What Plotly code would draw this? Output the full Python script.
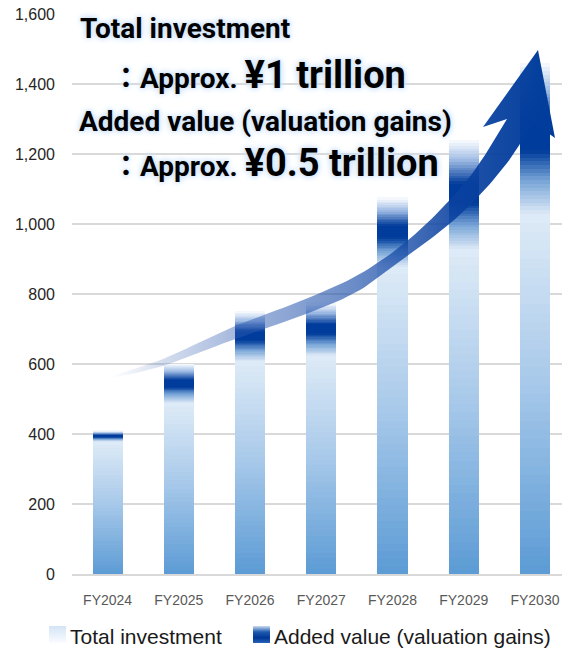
import plotly.graph_objects as go

# ---------------- data ----------------
categories = ["FY2024", "FY2025", "FY2026", "FY2027", "FY2028", "FY2029", "FY2030"]
total_investment = [380, 490, 610, 625, 880, 930, 1030]
added_value = [30, 110, 140, 150, 195, 310, 430]
y_tick_values = [0, 200, 400, 600, 800, 1000, 1200, 1400, 1600]
y_tick_labels = ["0", "200", "400", "600", "800", "1,000", "1,200", "1,400", "1,600"]
series_names = ["Total investment", "Added value (valuation gains)"]

W, H = 562, 648
N = 40  # gradient slices per bar segment

# gradient stops (bottom -> top of each segment)
inv_stops = [(0.0, (91, 155, 213)), (0.55, (170, 202, 234)), (1.0, (222, 235, 247))]
add_stops = [(0.0, (220, 232, 246)), (0.22, (120, 165, 215)), (0.42, (0, 60, 155)),
             (0.6, (0, 60, 155)), (0.82, (160, 188, 228)), (1.0, (250, 252, 255))]


def interp(stops, t):
    for (t0, c0), (t1, c1) in zip(stops[:-1], stops[1:]):
        if t0 <= t <= t1:
            f = (t - t0) / (t1 - t0) if t1 > t0 else 0
            c = [round(a + (b - a) * f) for a, b in zip(c0, c1)]
            return "rgb(%d,%d,%d)" % tuple(c)
    return "rgb(%d,%d,%d)" % stops[-1][1]


fig = go.Figure()

for values, stops in ((total_investment, inv_stops), (added_value, add_stops)):
    for k in range(N):
        col = interp(stops, (k + 0.5) / N)
        fig.add_trace(go.Bar(
            x=categories, y=[v / N for v in values],
            marker=dict(color=col, line=dict(color=col, width=1)),
            hoverinfo="skip", showlegend=False))

# ---------------- decorative arrow (overlay pixel space, y measured from top) ----------------
def catmull(points, steps=12):
    out = []
    pts = [points[0]] + points + [points[-1]]
    for i in range(1, len(pts) - 2):
        p0, p1, p2, p3 = pts[i - 1], pts[i], pts[i + 1], pts[i + 2]
        for s in range(steps):
            t = s / steps
            t2, t3 = t * t, t * t * t
            out.append(tuple(0.5 * ((2 * p1[j]) + (-p0[j] + p2[j]) * t +
                                    (2 * p0[j] - 5 * p1[j] + 4 * p2[j] - p3[j]) * t2 +
                                    (-p0[j] + 3 * p1[j] - 3 * p2[j] + p3[j]) * t3)
                             for j in range(2)))
    out.append(points[-1])
    return out

upper_edge = [(110, 377), (163, 359), (235, 326), (306, 299), (360, 274),
              (407, 241), (447, 203), (477, 167), (507, 119)]
arrow_head = [(483, 127), (538, 50), (555, 138), (534, 123)]
lower_edge = [(534, 123), (507, 163), (477, 198), (447, 226), (407, 256),
              (360, 290), (306, 314), (235, 339), (163, 366), (110, 378)]

outline = catmull(upper_edge) + arrow_head + catmull(lower_edge)[1:]
fig.add_trace(go.Scatter(
    x=[p[0] for p in outline], y=[H - p[1] for p in outline],
    xaxis="x2", yaxis="y2", mode="lines", line=dict(width=0),
    fill="toself",
    fillgradient=dict(type="horizontal", start=110, stop=555,
                      colorscale=[[0, "rgba(70,110,185,0)"], [0.12, "rgba(60,100,180,0.22)"],
                                  [0.3, "rgba(45,90,175,0.45)"], [0.55, "rgba(30,80,170,0.66)"],
                                  [0.78, "rgba(10,65,160,0.9)"], [1, "rgba(0,60,155,1)"]]),
    hoverinfo="skip", showlegend=False))


def px(x):
    return x / W


def py(y):
    return 1 - y / H


# ---------------- custom legend swatches (thin layout rectangles) ----------------
shapes = []
sw_top, sw_bot = 626, 643
legend_swatch_stops = [
    [(0.0, (250, 252, 255)), (1.0, (212, 228, 245))],
    [(0.0, (40, 100, 185)), (0.3, (0, 55, 150)), (0.65, (30, 90, 175)), (1.0, (205, 220, 242))],
]
for (x0, x1), stops in zip(((49, 66), (253, 270)), legend_swatch_stops):
    n = sw_bot - sw_top
    for i in range(n):
        col = interp(stops, (i + 0.5) / n)
        shapes.append(dict(type="rect", xref="paper", yref="paper",
                           x0=px(x0), x1=px(x1), y0=py(sw_bot - i), y1=py(sw_bot - i - 1),
                           line=dict(width=0), fillcolor=col, layer="above"))

base_font = "Liberation Sans, Arial, sans-serif"
title_font = "Roboto, Liberation Sans, Arial, Noto Sans CJK JP, sans-serif"
glow = "0 0 3px rgb(205,225,248), 0 0 6px rgb(205,225,248), 0 0 8px rgb(215,232,250)"

texts = [
    ("Total investment", 78, 29),
    ("：Approx. <span style='font-size:38px'>¥1 trillion</span>", 110, 75),
    ("Added value (valuation gains)", 77, 121),
    ("：Approx. <span style='font-size:38px'>¥0.5 trillion</span>", 110, 163),
]
annotations = []
for t, x, y in texts:
    annotations.append(dict(
        text="<b>" + t + "</b>", x=px(x), y=py(y), xref="paper", yref="paper",
        xanchor="left", yanchor="middle", showarrow=False,
        font=dict(family=title_font, size=28, color="black", shadow=glow)))

for name, x in zip(series_names, (68, 272)):
    annotations.append(dict(
        text=name, x=px(x), y=py(636), xref="paper", yref="paper",
        xanchor="left", yanchor="middle", showarrow=False,
        font=dict(family=base_font, size=21, color="#1a1a1a")))

fig.update_layout(
    template="none",
    width=W, height=H, margin=dict(l=0, r=0, t=0, b=0, pad=0),
    paper_bgcolor="white", plot_bgcolor="rgba(0,0,0,0)",
    barmode="stack", bargap=0.59, showlegend=False,
    xaxis=dict(type="category", categoryorder="array", categoryarray=categories,
               range=[-0.5, 6.38], domain=[72 / W, 1], showgrid=False, zeroline=False,
               showline=True, linecolor="#d9d9d9", linewidth=2, ticks="",
               tickfont=dict(family=base_font, size=14, color="#595959"),
               ticklabelstandoff=12, automargin=False, fixedrange=True),
    yaxis=dict(range=[0, 1600], domain=[(H - 574) / H, (H - 14) / H],
               tickvals=y_tick_values, ticktext=y_tick_labels,
               showgrid=True, gridcolor="#d9d9d9", gridwidth=1.5, zeroline=False,
               showline=False, ticks="", tickfont=dict(family=base_font, size=16, color="#262626"),
               ticklabelstandoff=16, automargin=False, fixedrange=True),
    xaxis2=dict(domain=[0, 1], range=[0, W], anchor="y2", visible=False, fixedrange=True),
    yaxis2=dict(domain=[0, 1], range=[0, H], anchor="x2", visible=False, fixedrange=True),
    annotations=annotations, shapes=shapes,
)

fig.write_html("out.html")
